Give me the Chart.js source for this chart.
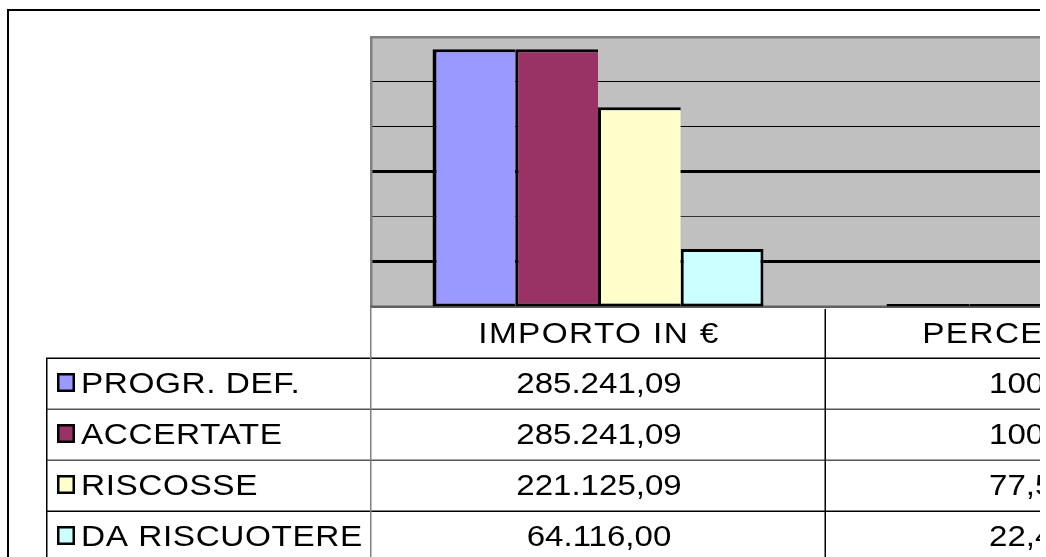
<!DOCTYPE html>
<html><head><meta charset="utf-8">
<script src="https://cdn.jsdelivr.net/npm/chart.js@4.4.1/dist/chart.umd.min.js"></script>
<style>
html,body{margin:0;padding:0;background:#fff;overflow:hidden;}
#wrap{position:relative;width:1040px;height:557px;overflow:hidden;background:#fff;}
#c{position:absolute;left:0;top:0;}
</style></head><body>
<div id="wrap"><canvas id="c" width="1290" height="557" style="width:1290px;height:557px"></canvas></div>
<script>
const categories = ['IMPORTO IN €', 'PERCENTUALE'];
const seriesNames = ['PROGR. DEF.', 'ACCERTATE', 'RISCOSSE', 'DA RISCUOTERE'];
const progrDef = [285241.09, 100];
const accertate = [285241.09, 100];
const riscosse = [221125.09, 77.52];
const daRiscuotere = [64116.00, 22.48];
const importoLabels = ['285.241,09', '285.241,09', '221.125,09', '64.116,00'];
const percentLabels = ['100,00%', '100,00%', '77,52%', '22,48%'];
const yTicks = [0, 50000, 100000, 150000, 200000, 250000, 300000];
const seriesColors = ['#9999FF', '#993366', '#FFFFCC', '#CCFFFF'];

const seriesValues = [progrDef, accertate, riscosse, daRiscuotere];
const FONT = '29px "Liberation Sans", Arial, sans-serif';

function drawText(ctx, text, x, y, align, sx, ls) {
  ctx.save();
  ctx.translate(x, y);
  ctx.scale(sx, 1);
  ctx.textAlign = align;
  ctx.letterSpacing = ls + 'px';
  ctx.fillText(text, 0, 0);
  ctx.restore();
}

const tablePlugin = {
  id: 'tablePlugin',
  beforeDraw(chart) {
    const {ctx, chartArea: a} = chart;
    ctx.save();
    ctx.fillStyle = '#fff';
    ctx.fillRect(0, 0, chart.width, chart.height);
    ctx.fillStyle = '#C0C0C0';
    ctx.fillRect(a.left, a.top, a.right - a.left, a.bottom - a.top);
    ctx.restore();
  },
  beforeDatasetsDraw(chart) {
    const {ctx, chartArea: a} = chart;
    ctx.save();
    ctx.fillStyle = '#808080';
    ctx.fillRect(a.left - 1, a.top, a.right - a.left + 1, 2.5);
    ctx.fillRect(a.left - 1, a.top, 2.5, a.bottom - a.top);
    ctx.fillStyle = '#606060';
    ctx.fillRect(a.left - 1, a.bottom - 1.5, a.right - a.left + 1, 2.5);
    ctx.restore();
  },
  afterDraw(chart) {
    const {ctx, chartArea: a} = chart;
    const xs = chart.scales.x;
    const catW = (a.right - a.left) / categories.length;
    const top = a.bottom;
    const headerH = 51, rowH = 51;
    const legendLeft = 46;
    const bottom = chart.height;
    ctx.save();
    // outer border
    ctx.fillStyle = '#000';
    ctx.fillRect(7, 9, chart.width, 2);
    ctx.fillRect(7, 9, 2, chart.height);
    // horizontal lines
    for (let r = 0; r < seriesNames.length; r++) {
      const y = top + headerH + r * rowH;
      ctx.fillStyle = (r === 0 || r === 3) ? '#000' : '#555';
      ctx.fillRect(legendLeft, y - 0.5, chart.width, 1.5);
    }
    // vertical lines
    ctx.fillStyle = '#000';
    ctx.fillRect(legendLeft, top + headerH, 1.5, bottom);
    ctx.fillStyle = '#808080';
    ctx.fillRect(a.left - 1, top, 1.5, bottom);
    ctx.fillStyle = '#000';
    for (let i = 1; i <= categories.length; i++) {
      ctx.fillRect(a.left + i * catW - 0.5, top + 2, 1.5, bottom);
    }
    ctx.font = FONT;
    ctx.fillStyle = '#000';
    ctx.textBaseline = 'alphabetic';
    // header texts
    categories.forEach((c, i) => {
      drawText(ctx, c, xs.getPixelForValue(i) + 1, top + 36, 'center', 1.15, 1.2);
    });
    // rows
    for (let r = 0; r < seriesNames.length; r++) {
      const rt = top + headerH + r * rowH;
      const base = rt + 35;
      ctx.fillStyle = seriesColors[r];
      ctx.fillRect(57, rt + 15, 18, 19);
      ctx.strokeStyle = '#000';
      ctx.lineWidth = 2.5;
      ctx.strokeRect(58.25, rt + 16.25, 15.5, 16.5);
      ctx.fillStyle = '#000';
      drawText(ctx, seriesNames[r], 81, base, 'left', 1.15, 0.5);
      drawText(ctx, importoLabels[r], xs.getPixelForValue(0) + 1, base, 'center', 1.14, 0);
      drawText(ctx, percentLabels[r], xs.getPixelForValue(1) - 63, base, 'left', 1.14, 0);
    }
    ctx.restore();
  }
};

const datasets = seriesNames.map((name, i) => ({
  label: name,
  data: seriesValues[i],
  backgroundColor: seriesColors[i],
  borderColor: '#000',
  borderWidth: { top: 3, left: i === 0 ? 4 : 3, bottom: 3, right: i === seriesNames.length - 1 ? 3 : 0 },
  borderSkipped: false,
  minBarLength: 3,
  categoryPercentage: 0.729,
  barPercentage: 1.0
}));

new Chart(document.getElementById('c'), {
  type: 'bar',
  data: { labels: categories, datasets },
  options: {
    responsive: false,
    animation: false,
    devicePixelRatio: 1,
    layout: { padding: { left: 371, top: 36, right: 11, bottom: 250 } },
    plugins: { legend: { display: false }, tooltip: { enabled: false }, title: { display: false } },
    scales: {
      x: { display: false, grid: { display: false } },
      y: {
        display: true,
        min: yTicks[0],
        max: yTicks[yTicks.length - 1],
        afterBuildTicks(scale) { scale.ticks = yTicks.map(v => ({ value: v })); },
        ticks: { display: false },
        border: { display: false },
        grid: {
          drawTicks: false,
          color(ctx) {
            const v = ctx.tick ? ctx.tick.value : null;
            if (v === yTicks[0] || v === yTicks[yTicks.length - 1]) return 'rgba(0,0,0,0)';
            return v === 100000 ? '#333' : '#000';
          },
          lineWidth(ctx) {
            const v = ctx.tick ? ctx.tick.value : null;
            if (v === 50000 || v === 150000) return 3;
            return 1;
          }
        }
      }
    }
  },
  plugins: [tablePlugin]
});
</script>
</body></html>
